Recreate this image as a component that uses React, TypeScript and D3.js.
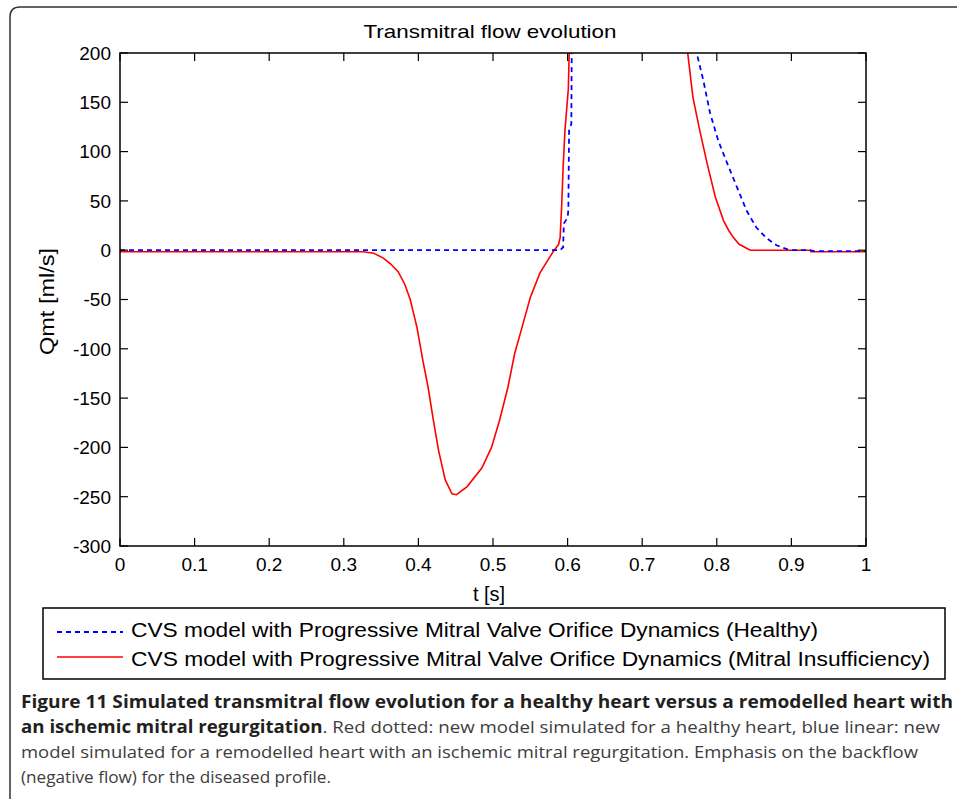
import React from "react";
import * as d3 from "d3";

// ---------- data ----------
const xTicks = [0, 0.1, 0.2, 0.3, 0.4, 0.5, 0.6, 0.7, 0.8, 0.9, 1];
const xTickLabels = ["0", "0.1", "0.2", "0.3", "0.4", "0.5", "0.6", "0.7", "0.8", "0.9", "1"];
const yTicks = [200, 150, 100, 50, 0, -50, -100, -150, -200, -250, -300];

// Healthy (blue dashed)
const tHealthy = [0, 0.2, 0.4, 0.59, 0.594, 0.595, 0.6, 0.601, 0.602, 0.605, 0.6055, 0.607, 0.68, 0.77, 0.773, 0.782, 0.791, 0.802, 0.814, 0.827, 0.84, 0.853, 0.867, 0.88, 0.894, 0.902, 0.925, 0.93, 1.0];
const qHealthy = [0, 0, 0, 0, 3, 27, 33, 41, 122, 128, 198, 250, 420, 230, 200, 172, 139, 111, 88, 64, 40, 23, 12, 5, 1, 0, 0, -1, -1];

// Mitral insufficiency (red solid)
const tInsuff = [0, 0.2, 0.326, 0.34, 0.353, 0.363, 0.373, 0.382, 0.389, 0.398, 0.406, 0.413, 0.42, 0.427, 0.436, 0.445, 0.451, 0.465, 0.485, 0.498, 0.509, 0.52, 0.529, 0.539, 0.55, 0.563, 0.576, 0.582, 0.588, 0.59, 0.592, 0.594, 0.5965, 0.601, 0.602, 0.605, 0.68, 0.755, 0.761, 0.768, 0.777, 0.787, 0.798, 0.809, 0.816, 0.822, 0.83, 0.84, 0.845, 0.925, 0.926, 1.0];
const qInsuff = [-1.5, -1.5, -1.5, -3, -8, -14, -22, -35, -50, -78, -112, -139, -172, -203, -233, -247, -248, -240, -221, -200, -172, -139, -105, -78, -48, -23, -7, 0, 6, 13, 44, 84, 122, 164, 196, 260, 420, 260, 200, 155, 122, 88, 54, 30, 20, 13, 6, 2, 0, 0, -1.5, -1.5];

const legendLabels = [
  "CVS model with Progressive Mitral Valve Orifice Dynamics (Healthy)",
  "CVS model with Progressive Mitral Valve Orifice Dynamics (Mitral Insufficiency)",
];

const titleText = "Transmitral flow evolution";
const xLabel = "t [s]";
const yLabel = "Qmt [ml/s]";

// ---------- layout ----------
const W = 957;
const H = 799;
const plot = { left: 120, right: 866, top: 53, bottom: 546 };
const FONT = "'Liberation Sans', Arial, sans-serif";
const CAP = "'Open Sans', 'Noto Sans', sans-serif";

export default function App() {
  const x = d3.scaleLinear().domain([0, 1]).range([plot.left, plot.right]);
  const y = d3.scaleLinear().domain([-300, 200]).range([plot.bottom, plot.top]);

  const lineGen = d3
    .line<[number, number]>()
    .x((d) => x(d[0]))
    .y((d) => y(d[1]))
    .curve(d3.curveLinear);

  const healthy = tHealthy.map((t, i) => [t, qHealthy[i]] as [number, number]);
  const insuff = tInsuff.map((t, i) => [t, qInsuff[i]] as [number, number]);

  const tickLen = 8;

  return (
    <svg
      width={W}
      height={H}
      style={{ position: "absolute", left: 0, top: 0, background: "#fff" }}
    >
      <defs>
        <clipPath id="plotClip">
          <rect x={plot.left} y={plot.top} width={plot.right - plot.left} height={plot.bottom - plot.top} />
        </clipPath>
      </defs>
      <rect x={0} y={0} width={W} height={H} fill="#fff" />

      {/* outer frame */}
      <path
        d={`M10,${H + 5} L10,17 Q10,7 20,7 L${W + 5},7`}
        fill="none"
        stroke="#333"
        strokeWidth={1.5}
      />

      {/* title */}
      <text x={490} y={38} textAnchor="middle" fontFamily={FONT} fontSize={19} textLength={253} lengthAdjust="spacingAndGlyphs" fill="#000">
        {titleText}
      </text>

      {/* series */}
      <g clipPath="url(#plotClip)">
        <path d={lineGen(insuff) || ""} fill="none" stroke="#ff0000" strokeWidth={1.6} />
        <path d={lineGen(healthy) || ""} fill="none" stroke="#0000ff" strokeWidth={1.8} strokeDasharray="5,4" />
      </g>

      {/* axes box */}
      <rect
        x={plot.left}
        y={plot.top}
        width={plot.right - plot.left}
        height={plot.bottom - plot.top}
        fill="none"
        stroke="#000"
        strokeWidth={1.5}
      />

      {/* x ticks */}
      {xTicks.map((t, i) => (
        <g key={"xt" + i}>
          <line x1={x(t)} x2={x(t)} y1={plot.bottom} y2={plot.bottom - tickLen} stroke="#000" strokeWidth={1.2} />
          <line x1={x(t)} x2={x(t)} y1={plot.top} y2={plot.top + tickLen} stroke="#000" strokeWidth={1.2} />
          <text x={x(t)} y={571} textAnchor="middle" fontFamily={FONT} fontSize={19} fill="#000">
            {xTickLabels[i]}
          </text>
        </g>
      ))}

      {/* y ticks */}
      {yTicks.map((v, i) => (
        <g key={"yt" + i}>
          <line x1={plot.left} x2={plot.left + tickLen} y1={y(v)} y2={y(v)} stroke="#000" strokeWidth={1.2} />
          <line x1={plot.right} x2={plot.right - tickLen} y1={y(v)} y2={y(v)} stroke="#000" strokeWidth={1.2} />
          <text x={111} y={y(v)} dy="0.36em" textAnchor="end" fontFamily={FONT} fontSize={19} fill="#000">
            {String(v)}
          </text>
        </g>
      ))}

      {/* axis labels */}
      <text x={489} y={601} textAnchor="middle" fontFamily={FONT} fontSize={20} fill="#000">
        {xLabel}
      </text>
      <text
        transform={`translate(54,${(plot.top + plot.bottom) / 2 + 2}) rotate(-90)`}
        textAnchor="middle"
        fontFamily={FONT}
        fontSize={20}
        textLength={107}
        lengthAdjust="spacingAndGlyphs"
        fill="#000"
      >
        {yLabel}
      </text>

      {/* legend */}
      <rect x={43} y={608} width={902} height={71} fill="#fff" stroke="#000" strokeWidth={1.5} />
      <line x1={57} x2={123} y1={632} y2={632} stroke="#0000ff" strokeWidth={1.8} strokeDasharray="5,4" />
      <line x1={57} x2={123} y1={657} y2={657} stroke="#ff0000" strokeWidth={1.6} />
      <text x={131} y={637} fontFamily={FONT} fontSize={20} textLength={687} lengthAdjust="spacingAndGlyphs" fill="#000">
        {legendLabels[0]}
      </text>
      <text x={131} y={666} fontFamily={FONT} fontSize={20} textLength={799} lengthAdjust="spacingAndGlyphs" fill="#000">
        {legendLabels[1]}
      </text>

      {/* caption */}
      <g fontFamily={CAP} fontSize={17}>
        <text x={21} y={708} fontWeight="bold" fill="#231f20" textLength={932} lengthAdjust="spacingAndGlyphs">
          Figure 11 Simulated transmitral flow evolution for a healthy heart versus a remodelled heart with
        </text>
        <text x={21} y={733} fill="#3d3d3d" textLength={919} lengthAdjust="spacingAndGlyphs">
          <tspan fontWeight="bold" fill="#231f20">an ischemic mitral regurgitation</tspan>
          <tspan>. Red dotted: new model simulated for a healthy heart, blue linear: new</tspan>
        </text>
        <text x={21} y={758} fill="#3d3d3d" textLength={897} lengthAdjust="spacingAndGlyphs">
          model simulated for a remodelled heart with an ischemic mitral regurgitation. Emphasis on the backflow
        </text>
        <text x={21} y={783} fill="#3d3d3d" textLength={310} lengthAdjust="spacingAndGlyphs">
          (negative flow) for the diseased profile.
        </text>
      </g>
    </svg>
  );
}
